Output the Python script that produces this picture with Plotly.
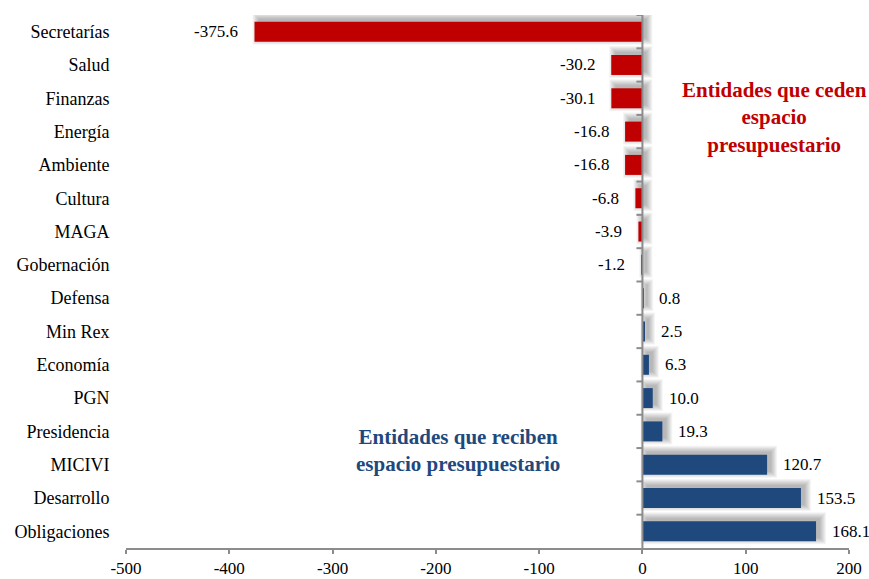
import plotly.graph_objects as go

# Budget-space reallocation by entity (millions)
entities = ["Secretarías", "Salud", "Finanzas", "Energía", "Ambiente", "Cultura",
            "MAGA", "Gobernación", "Defensa", "Min Rex", "Economía", "PGN",
            "Presidencia", "MICIVI", "Desarrollo", "Obligaciones"]
changes = [-375.6, -30.2, -30.1, -16.8, -16.8, -6.8, -3.9, -1.2,
           0.8, 2.5, 6.3, 10.0, 19.3, 120.7, 153.5, 168.1]
x_ticks = [-500, -400, -300, -200, -100, 0, 100, 200]

RED = "#C00000"
BLUE = "#1F497D"
AXIS = "#8C8C8C"
FONT = "Liberation Serif"

colors = [RED if v < 0 else BLUE for v in changes]

fig = go.Figure()

# soft drop shadow built from stacked translucent bars
BAR_W = 0.6
PX_PER_CAT = 533 / 16
PX_PER_UNIT = 723 / 700
dx_px, dy_px = 4, -3
for e in [6, 5, 4, 3, 2, 1, 0]:
    ew = BAR_W + 2 * e / PX_PER_CAT
    eu = e / PX_PER_UNIT
    fig.add_trace(go.Bar(
        y=entities,
        x=[abs(v) + 2 * eu for v in changes],
        base=[min(v, 0) + dx_px / PX_PER_UNIT - eu for v in changes],
        orientation="h",
        width=ew,
        offset=-ew / 2 + dy_px / PX_PER_CAT,
        marker=dict(color="rgba(0,0,0,0.045)", line=dict(width=0)),
        hoverinfo="skip",
        showlegend=False,
    ))

fig.add_trace(go.Bar(
    y=entities,
    x=changes,
    orientation="h",
    width=BAR_W,
    offset=-BAR_W / 2,
    marker=dict(color=colors, line=dict(width=0)),
    showlegend=False,
))

annotations = []
for name, v in zip(entities, changes):
    annotations.append(dict(
        x=v, y=name, xref="x", yref="y",
        text=f"{v:.1f}", showarrow=False,
        xanchor="left" if v >= 0 else "right",
        xshift=14 if v >= 0 else -14,
        font=dict(family=FONT, size=17, color="#000000"),
    ))

annotations.append(dict(
    x=0.897, y=0.808, xref="paper", yref="paper",
    text="Entidades que ceden<br>espacio<br>presupuestario",
    showarrow=False, align="center", xanchor="center", yanchor="middle",
    font=dict(family=FONT, size=21, color=RED, weight="bold"),
))
annotations.append(dict(
    x=0.459, y=0.182, xref="paper", yref="paper",
    text="Entidades que reciben<br>espacio presupuestario",
    showarrow=False, align="center", xanchor="center", yanchor="middle",
    font=dict(family=FONT, size=21, color=BLUE, weight="bold"),
))

# vertical axis line at zero with tick marks between categories
shapes = [dict(type="line", xref="x", yref="paper", x0=0, x1=0, y0=0, y1=1,
               line=dict(color=AXIS, width=2), layer="above")]
for k in range(len(entities)):
    shapes.append(dict(
        type="line", xref="x", yref="y",
        xsizemode="pixel", xanchor=0, x0=-6, x1=0,
        y0=k - 0.5, y1=k - 0.5,
        line=dict(color=AXIS, width=2), layer="above",
    ))

fig.update_layout(
    width=869, height=579,
    margin=dict(l=126, r=20, t=15, b=31),
    plot_bgcolor="white", paper_bgcolor="white",
    barmode="overlay",
    font=dict(family=FONT, size=18, color="#000000"),
    annotations=annotations,
    shapes=shapes,
    xaxis=dict(
        range=[-500, 200], tickvals=x_ticks, ticktext=[str(t) for t in x_ticks],
        showgrid=False, zeroline=False, automargin=False,
        showline=True, linecolor=AXIS, linewidth=2,
        ticks="outside", ticklen=4, tickwidth=2, tickcolor=AXIS,
        tickfont=dict(family=FONT, size=17),
    ),
    yaxis=dict(
        categoryorder="array", categoryarray=entities,
        range=[15.5, -0.5], automargin=False,
        showgrid=False, zeroline=False, showline=False,
        ticks="outside", ticklen=12, tickcolor="rgba(0,0,0,0)",
        tickfont=dict(family=FONT, size=18),
    ),
)

fig.write_html("out.html")
